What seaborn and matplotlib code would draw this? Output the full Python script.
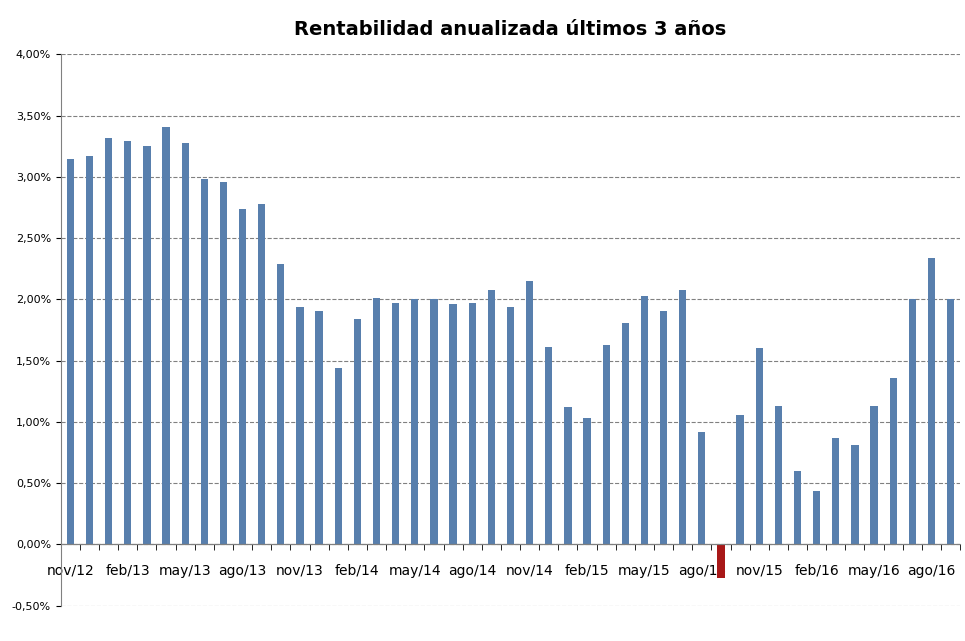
import matplotlib
matplotlib.use("Agg")
import matplotlib.pyplot as plt
import seaborn as sns
import pandas as pd
import numpy as np

meses = ["nov","dic","ene","feb","mar","abr","may","jun","jul","ago","sep","oct"]
labels = []
y, m = 12, 0
for i in range(47):
    labels.append(f"{meses[m]}/{y}")
    m += 1
    if m == 3:
        y += 1
    if m == 12:
        m = 0
values = [3.15,3.17,3.32,3.29,3.25,3.41,3.28,2.98,2.96,2.74,2.78,2.29,
          1.94,1.91,1.44,1.84,2.01,1.97,2.00,2.00,1.96,1.97,2.08,1.94,
          2.15,1.61,1.12,1.03,1.63,1.81,2.03,1.91,2.08,0.92,-0.27,1.06,
          1.60,1.13,0.60,0.44,0.87,0.81,1.13,1.36,2.00,2.34,2.00]
yticks = [-0.5,0,0.5,1,1.5,2,2.5,3,3.5,4]

df = pd.DataFrame({"mes": labels, "v": values})
colors = ["#c00000" if v < 0 else "#4a7ebb" for v in values]

fig, ax = plt.subplots(figsize=(9.65, 6.41), dpi=100)
sns.barplot(data=df, x="mes", y="v", hue="mes", palette=colors, legend=False,
            width=0.38, ax=ax, edgecolor=None)
ax.set_ylim(-0.5, 4.0)
ax.set_yticks(yticks)
ax.set_yticklabels([f"{t:.2f}%".replace(".", ",") for t in yticks], fontsize=8)
ax.set_xticks(range(0, 47, 3))
ax.set_xticklabels(labels[::3], fontsize=8)
ax.set_xticks(np.arange(-0.5, 47, 1), minor=True)
ax.tick_params(axis="x", which="major", length=0, pad=14)
ax.tick_params(axis="x", which="minor", length=4)
ax.set_xlim(-0.5, 46.5)
ax.set_xlabel(""); ax.set_ylabel("")
ax.yaxis.grid(True, linestyle="--", color="#808080", linewidth=0.8)
ax.set_axisbelow(True)
ax.axhline(0, color="#808080", linewidth=0.8)
for s in ["top", "right", "bottom"]:
    ax.spines[s].set_visible(False)
ax.spines["left"].set_color("#808080")
ax.set_title("Rentabilidad anualizada últimos 3 años", fontsize=14, fontweight="bold", pad=14)
plt.subplots_adjust(left=0.063, right=0.995, top=0.915, bottom=0.055)
# x tick marks sit at zero line
ax.spines["bottom"].set_position(("data", 0))
ax.spines["bottom"].set_visible(True)
ax.spines["bottom"].set_color("#808080")
for lbl in ax.get_xticklabels():
    pass
fig.savefig("out.png")
